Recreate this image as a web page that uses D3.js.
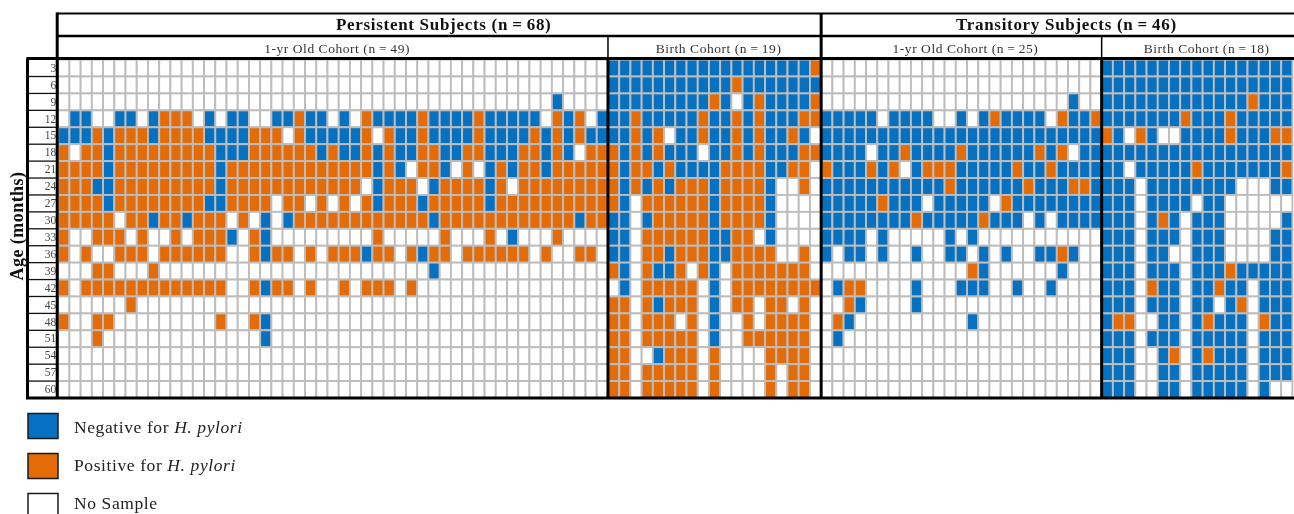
<!DOCTYPE html>
<html><head><meta charset="utf-8">
<script src="https://cdn.jsdelivr.net/npm/d3@7"></script>
<style>
html,body{margin:0;padding:0;background:#fff;overflow:hidden}
svg{display:block;font-family:"Liberation Serif",serif;filter:blur(0.3px)}
</style></head><body>
<svg id="c" width="1294" height="514"></svg>
<script>
const ages=[3,6,9,12,15,18,21,24,27,30,33,36,39,42,45,48,51,54,57,60];
// B = negative, O = positive, . = no sample; rows are top to bottom, missing tail = no sample
const persistentOneYear=[
"",
"",
"............................................B",
".BB..BB.BOOO.B.BB..BBOBB.B.OBBBBOBBBBOBBBBB.OBO.B",
"BBBOBOOOBOOOOBBBBOOO.OBBBBBO.OBBOBBBBOBBBBOBOBOBB",
"O.OOBOOOOOOOOOBBBOOOOOOBOBBOBOBBOOBBOOBBBOOBOB.OO",
"OOOOBOOOOOOOOOBOOOOOOOOOOOOOBOB.OOB.O.BOBOOBOOOOO",
"OOOBBOOOOOOOOOBOOOOOOOOOOOO.BOOO.BOOOOBO.OOOOOOOO",
"OOOOBOOOOOOOOBBOOOO.OO.O.O.OBOOOBOOOOOBOOOOOOOOOO",
"OOOOO.OOBOOBOOO.O.B.BOOOOOOOOOOOOBOOOOOOOOOOOOBOO",
"O..OOO.O..O.OOOB.OB.........O.....O...O.B...O",
"O.O..OOO.OOOOOO..OBOO.O.OOOBOO.OBOO.OOOOOO.O..OO",
"...OO...O........................B",
"O.OOOOOOOOOOOOO..OBOO.O..O.OOO.O",
"......O",
"O..OO.........O..OB",
"...O..............B",
"","",""];
const persistentBirth=[
"BBBBBBBBBBBBBBBBBBO",
"BBBBBBBBBBBOBBBBBBB",
"BBBBBBBBBOB.BOBBBBO",
"BBOBBBBBOBBOBOBBBOO",
"BBOBO.BBOBBOBOBBOB.",
"OBOBOBBB.BBOBOBBBOO",
"OBOOBOBBBBOOOOBBOO.",
"OBOBOBOOOBOOOOB..O.",
"OB.OOOOOOBOOOOB....",
"BB.BOOOOOBOOOOB....",
"BB.OOOOOOBBOO.B....",
"BB.OOBOOOBBOOOO..O.",
"OB.OBBO.OB.OOOOOOO.",
".B.OOOOO.B.OOOOOOOO",
"OO.OBOOO.B.OO.OO.O.",
"OO.OOO.O.B..O.OOOO.",
"OO.OOOOO.B..OOOOOO.",
"OO..BOOO.O....OOOO.",
"OO.OOOOO.O....O.OO.",
"OO.OOOOO.O....O.OO."];
const transitoryOneYear=[
"",
"",
"......................B",
"BBBBB.BBBB..B.BOBBBB.OBBO",
"BBBBBBBBBBBBBBBBBBBBBBBBB",
"BBBB.BBOBBBBOBBBBBBOBO.BB",
"OBBBOBO.BOOOBBBBBOBBOBBBB",
"BBBBBBBBBBBOBBBBBBOBBBOOB",
"BBBBBOBBB.BBBBB.OBBBBBBBB",
"BBBBBBBBOBBBBBOBBB.B.BBBB",
"BBBB.B.....B.B",
"B.BB.B..B..BB.B.B..BBOB..",
".............OB......B",
".BOO....B...BBB..B..B",
"..OB....B",
".OB..........B",
".B",
"","",""];
const transitoryBirth=[
"BBBBBBBBBBBBBBBBB",
"BBBBBBBBBBBBBBBBB",
"BBBBBBBBBBBBBOBBB",
"BBBBBBBOBBBOBBBBB",
"OB.OB..BBBBOBBBOO",
"BBBBBBBBBBBBBBBBB",
"BB.BBBBBOBBBBBBBO",
"BBB.BBBBBBBB...BB",
"BBB.BBBB.BB......",
"BBB.BOB.BBB.....B",
"BBB.BBB.BBB....BB",
"BBB.BB..BBB....BB",
"BBB.BBB.BBBOBBBBB",
"BBB.OBB.BBOBB.BBB",
"BBB.BBB.BB.BO.BBB",
"BOO..BB.BOBBB.OBB",
"BBB.BBB.BBBBB.BBB",
"BBB..BO.BOBBB.BBB",
"BBB..BB.BBBBB.BBB",
"BBB..BB.BBBBB.B.."];
const panelSizes=[49,19,25,18];
const panelRows=[persistentOneYear,persistentBirth,transitoryOneYear,transitoryBirth];
const subTitles=["1-yr Old Cohort (n\u2009=\u200949)","Birth Cohort (n\u2009=\u200919)","1-yr Old Cohort (n\u2009=\u200925)","Birth Cohort (n\u2009=\u200918)"];
const groupTitles=["Persistent Subjects (n\u2009=\u200968)","Transitory Subjects (n\u2009=\u200946)"];
const groupSpans=[[0,2],[2,4]];
const legendItems=[{k:"B",t:"Negative for ",i:"H. pylori"},{k:"O",t:"Positive for ",i:"H. pylori"},{k:".",t:"No Sample",i:""}];
const colors={B:"#0670c1",O:"#e36c09",".":"#ffffff"};

const svg=d3.select("#c");
const total=d3.sum(panelSizes);
const x=d3.scaleLinear().domain([0,total]).range([58.2,58.2+total*11.22]);
const y=d3.scaleBand().domain(ages).range([59.6,398]);
const offsets=d3.cumsum([0].concat(panelSizes));
const gridBot=y.range()[1];

// cells
const cells=[];
panelRows.forEach((rows,p)=>rows.forEach((r,i)=>{
  const n=p===3?r.length:panelSizes[p];
  for(let c=0;c<n;c++)cells.push({col:offsets[p]+c,age:ages[i],k:r[c]||"."});
}));
svg.append("g").selectAll("rect").data(cells).join("rect")
  .attr("x",d=>x(d.col)).attr("y",d=>y(d.age))
  .attr("width",x(1)-x(0)).attr("height",y.bandwidth())
  .attr("fill",d=>colors[d.k]).attr("stroke","#bdbdbd").attr("stroke-width",1.9);

// row label column
const labelLeft=27.5,gridLeft=x(0);
svg.append("g").selectAll("line").data(ages.slice(1)).join("line")
  .attr("x1",labelLeft).attr("x2",gridLeft)
  .attr("y1",d=>y(d)).attr("y2",d=>y(d)).attr("stroke","#111").attr("stroke-width",1.3);
const ax=svg.append("g").attr("transform",`translate(${gridLeft},0)`)
  .call(d3.axisLeft(y).tickSize(0).tickPadding(2));
ax.select(".domain").remove();
ax.selectAll("text").attr("font-family","Liberation Serif").attr("font-size",11.5).attr("fill","#444");

// frames
const line=(x1,y1,x2,y2,w)=>svg.append("line").attr("x1",x1).attr("y1",y1).attr("x2",x2).attr("y2",y2).attr("stroke","#000").attr("stroke-width",w);
const headTop=13.5,headMid=36,headBot=58.5,right=x(total);
line(gridLeft-1,headTop,right,headTop,2);
line(gridLeft-1,headMid,right,headMid,2.4);
line(labelLeft-1,headBot,right,headBot,3);
line(labelLeft-1.5,gridBot,right,gridBot,3);
line(labelLeft,headBot,labelLeft,gridBot,3);
line(gridLeft-1,headTop-1,gridLeft-1,gridBot,3);
offsets.slice(1,4).forEach((o,i)=>{
  if(i===1){line(x(o),headTop,x(o),gridBot,3);}
  else{line(x(o),headMid,x(o),headBot,1.5);line(x(o),headBot,x(o),gridBot,3);}
});

// titles
const hshift=4;
svg.append("g").selectAll("text").data(groupTitles).join("text")
  .attr("x",(d,i)=>(x(offsets[groupSpans[i][0]])+x(offsets[groupSpans[i][1]]))/2+hshift)
  .attr("y",29.5).attr("text-anchor","middle").attr("font-weight","bold").attr("font-size",17).attr("letter-spacing",0.7).attr("fill","#111").text(d=>d);
svg.append("g").selectAll("text").data(subTitles).join("text")
  .attr("x",(d,i)=>(x(offsets[i])+x(offsets[i+1]))/2+hshift)
  .attr("y",52.5).attr("text-anchor","middle").attr("font-size",13.5).attr("letter-spacing",0.55).attr("fill","#333").text(d=>d);
svg.append("text").attr("transform","translate(23,226) rotate(-90)")
  .attr("text-anchor","middle").attr("font-weight","bold").attr("font-size",18).attr("letter-spacing",0.45).attr("fill","#111").text("Age (months)");

// legend
const legendY=d3.scalePoint().domain(legendItems.map(d=>d.k)).range([413.5,493.5]);
const legendText=d3.scalePoint().domain(legendItems.map(d=>d.k)).range([433,509]);
const lg=svg.append("g");
lg.selectAll("rect").data(legendItems).join("rect")
  .attr("x",28).attr("y",d=>legendY(d.k)).attr("width",30).attr("height",25)
  .attr("fill",d=>colors[d.k]).attr("stroke","#1a1a1a").attr("stroke-width",1.5);
const lt=lg.selectAll("text").data(legendItems).join("text")
  .attr("x",74).attr("y",d=>legendText(d.k)).attr("font-size",17.5).attr("letter-spacing",0.6).attr("fill","#222");
lt.append("tspan").text(d=>d.t);
lt.append("tspan").attr("font-style","italic").text(d=>d.i);
</script>
</body></html>
